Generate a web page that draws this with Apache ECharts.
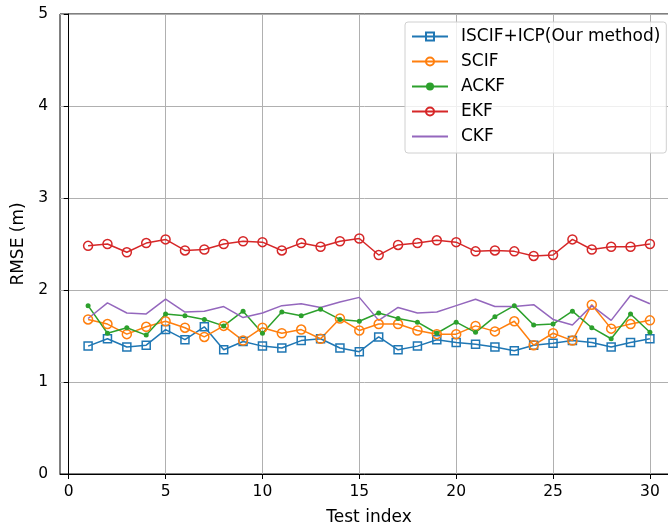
<!DOCTYPE html>
<html>
<head>
<meta charset="utf-8">
<script src="https://cdn.jsdelivr.net/npm/echarts@6/dist/echarts.min.js"></script>
<style>
html, body { margin: 0; padding: 0; background: #fff; }
#chart { width: 668px; height: 530px; }
</style>
</head>
<body>
<div id="chart"></div>
<script>
var testIndex = [];
for (var i = 1; i <= 30; i++) testIndex.push(i);

var xTicks = [0, 5, 10, 15, 20, 25, 30];

var iscif = [1.39, 1.47, 1.38, 1.40, 1.57, 1.46, 1.60, 1.35, 1.44, 1.39,
             1.37, 1.45, 1.47, 1.37, 1.33, 1.49, 1.35, 1.39, 1.46, 1.43,
             1.41, 1.38, 1.34, 1.40, 1.42, 1.45, 1.43, 1.38, 1.43, 1.47];
var scif = [1.68, 1.63, 1.52, 1.60, 1.66, 1.59, 1.49, 1.61, 1.45, 1.59,
            1.53, 1.57, 1.47, 1.69, 1.56, 1.63, 1.63, 1.56, 1.52, 1.52,
            1.61, 1.55, 1.66, 1.40, 1.53, 1.45, 1.84, 1.58, 1.63, 1.67];
var ackf = [1.83, 1.53, 1.59, 1.51, 1.74, 1.72, 1.68, 1.61, 1.77, 1.53,
            1.76, 1.72, 1.79, 1.68, 1.66, 1.75, 1.69, 1.65, 1.53, 1.65,
            1.54, 1.71, 1.83, 1.62, 1.63, 1.77, 1.59, 1.47, 1.74, 1.54];
var ekf = [2.48, 2.50, 2.41, 2.51, 2.55, 2.43, 2.44, 2.50, 2.53, 2.52,
           2.43, 2.51, 2.47, 2.53, 2.56, 2.38, 2.49, 2.51, 2.54, 2.52,
           2.42, 2.43, 2.42, 2.37, 2.38, 2.55, 2.44, 2.47, 2.47, 2.50];
var ckf = [1.69, 1.86, 1.75, 1.74, 1.90, 1.76, 1.77, 1.82, 1.70, 1.75,
           1.83, 1.85, 1.81, 1.87, 1.92, 1.67, 1.81, 1.75, 1.76, 1.83,
           1.90, 1.82, 1.82, 1.84, 1.68, 1.62, 1.83, 1.67, 1.94, 1.85];

function pairs(arr) {
	return arr.map(function(v, k){ return [testIndex[k], v]; });
}

function makeSeries(name, data, color, symbol, size, hollow) {
	return {
		name: name,
		type: 'line',
		data: pairs(data),
		symbol: symbol,
		symbolSize: size,
		showAllSymbol: true,
		lineStyle: { color: color, width: 1.5 },
		itemStyle: hollow ? { color: 'rgba(0,0,0,0)', borderColor: color, borderWidth: 1.5 }
		                  : { color: color, borderColor: color, borderWidth: 0 },
		emphasis: { disabled: true },
		animation: false
	};
}

var chart = echarts.init(document.getElementById('chart'));
var font = 'DejaVu Sans';
var option = {
	backgroundColor: '#fff',
	textStyle: { fontFamily: font },
	grid: {
		left: 60, top: 14, right: -10, bottom: 56,
		outerBoundsMode: 'none',
		containLabel: false,
		show: true, borderColor: '#000', borderWidth: 1
	},
	legend: {
		orient: 'vertical',
		left: 405, top: 22,
		itemWidth: 36, itemHeight: 10, itemGap: 8,
		padding: [6, 6, 8, 6],
		backgroundColor: 'rgba(255,255,255,0.8)',
		borderColor: '#d0d0d0', borderWidth: 1, borderRadius: 3,
		textStyle: { fontFamily: font, fontSize: 17, color: '#000', padding: [0, 0, 0, 8] },
		data: ['ISCIF+ICP(Our method)', 'SCIF', 'ACKF', 'EKF',
		       { name: 'CKF', itemStyle: { opacity: 0 } }]
	},
	xAxis: {
		type: 'value',
		min: -0.45, max: 31.45,
		name: 'Test index',
		nameLocation: 'middle',
		nameGap: 35,
		nameTextStyle: { fontFamily: font, fontSize: 17, color: '#000' },
		axisLine: { lineStyle: { color: '#000' } },
		axisTick: { show: true, length: 5, lineStyle: { color: '#000' }, customValues: xTicks },
		axisLabel: { fontFamily: font, fontSize: 15.5, color: '#000', margin: 10, customValues: xTicks },
		splitLine: { show: true, lineStyle: { color: '#b0b0b0', width: 1 } }
	},
	yAxis: {
		type: 'value',
		min: 0, max: 5, interval: 1,
		name: 'RMSE (m)',
		nameLocation: 'middle',
		nameGap: 30,
		nameTextStyle: { fontFamily: font, fontSize: 17, color: '#000' },
		axisLine: { show: true, lineStyle: { color: '#000' } },
		axisTick: { show: true, length: 5, lineStyle: { color: '#000' } },
		axisLabel: { fontFamily: font, fontSize: 15.5, color: '#000', margin: 12 },
		splitLine: { show: true, lineStyle: { color: '#b0b0b0', width: 1 } }
	},
	series: [
		makeSeries('ISCIF+ICP(Our method)', iscif, '#1f77b4', 'rect', 8, true),
		makeSeries('SCIF', scif, '#ff7f0e', 'circle', 9, true),
		makeSeries('ACKF', ackf, '#2ca02c', 'circle', 5, false),
		makeSeries('EKF', ekf, '#d62728', 'circle', 9, true),
		makeSeries('CKF', ckf, '#9467bd', 'none', 1, false)
	]
};
chart.setOption(option);
</script>
</body>
</html>
